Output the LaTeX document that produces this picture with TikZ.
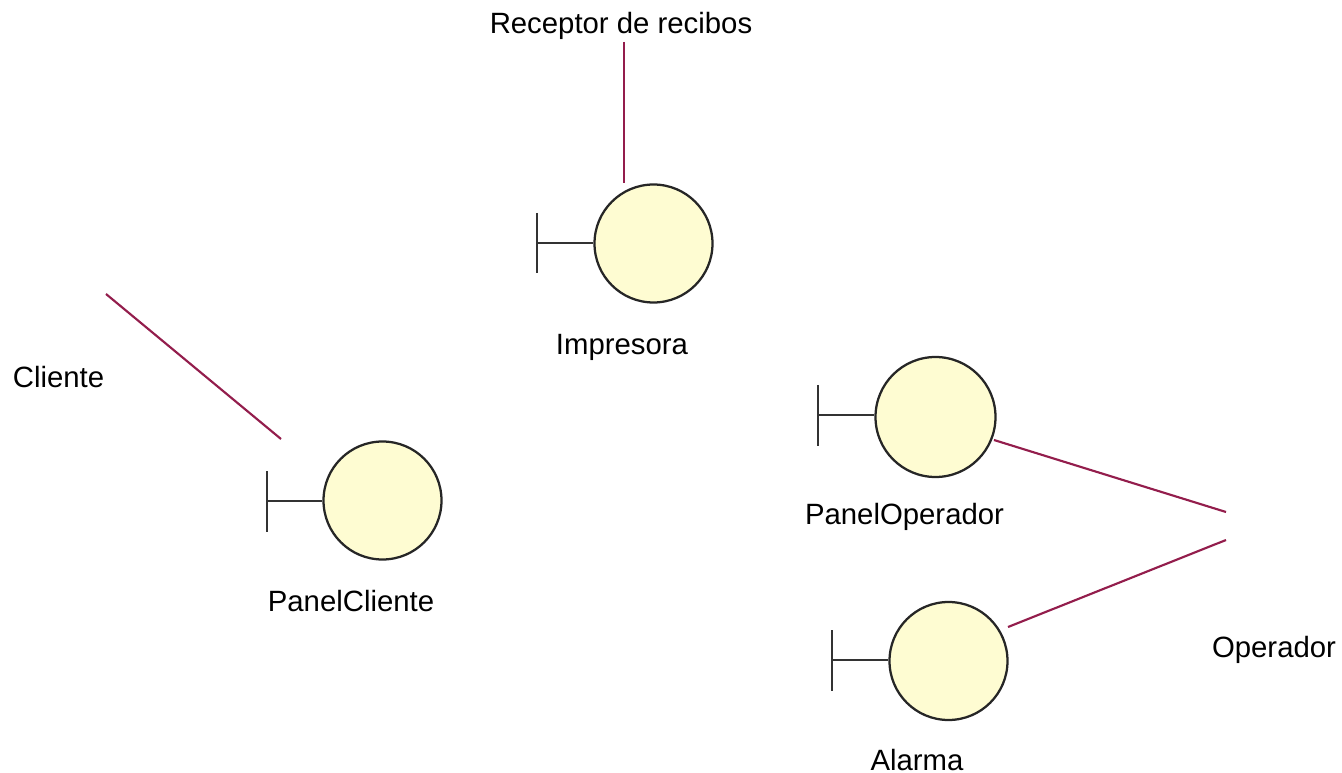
\documentclass[tikz,border=0pt]{standalone}
\usepackage{fontspec}
\setmainfont{Liberation Sans}
\definecolor{fillc}{HTML}{FEFCD2}
\definecolor{linkc}{HTML}{931D4C}
\tikzset{
 x=0.75pt,y=-0.75pt,
 circ/.style={circle,draw=black!85,fill=fillc,line width=1.7pt,inner sep=0pt,minimum size=88.5pt},
 stem/.style={draw=black!80,line width=1.7pt},
 link/.style={draw=linkc,line width=1.6pt},
 lbl/.style={font=\fontsize{22pt}{24pt}\selectfont,inner sep=0pt,anchor=center,text=black}
}
\begin{document}
\begin{tikzpicture}
\useasboundingbox (0,0) rectangle (1342,773);
% nodes
\node[circ] (imp) at (653.5,243.5) {};
\node[circ] (pc) at (382.5,500.5) {};
\node[circ,minimum size=90pt] (po) at (935.5,417) {};
\node[circ] (al) at (948.5,661) {};
% bars
\coordinate (impT) at (537,213); \coordinate (impB) at (537,273); \coordinate (impM) at (537,243);
\coordinate (pcT) at (267,471); \coordinate (pcB) at (267,532); \coordinate (pcM) at (267,501);
\coordinate (poT) at (818,385); \coordinate (poB) at (818,446); \coordinate (poM) at (818,415);
\coordinate (alT) at (832,630); \coordinate (alB) at (832,691); \coordinate (alM) at (832,660);
\draw[stem] (impT) -- (impB) (impM) -- (imp.west |- impM);
\draw[stem] (pcT) -- (pcB) (pcM) -- (pc.west |- pcM);
\draw[stem] (poT) -- (poB) (poM) -- (po.west |- poM);
\draw[stem] (alT) -- (alB) (alM) -- (al.west |- alM);
% labels
\node[lbl] (rr) at (621,26) {Receptor de recibos};
\node[lbl] (limp) at (622,347) {Impresora};
\node[lbl] (cli) at (58.5,377) {Cliente};
\node[lbl] (lpc) at (351,601) {PanelCliente};
\node[lbl] (lpo) at (904.5,517) {PanelOperador};
\node[lbl] (op) at (1274,650) {Operador};
\node[lbl] (lal) at (917,760.5) {Alarma};
% links
\coordinate (a) at (624,42); \coordinate (b) at (624,183);
\coordinate (c) at (106,294); \coordinate (d) at (281,439);
\coordinate (e) at (994,440); \coordinate (f) at (1226,512);
\coordinate (g) at (1008,627); \coordinate (h) at (1226,540);
\draw[link] (a) -- (b);
\draw[link] (c) -- (d);
\draw[link] (e) -- (f);
\draw[link] (g) -- (h);
\end{tikzpicture}
\end{document}
